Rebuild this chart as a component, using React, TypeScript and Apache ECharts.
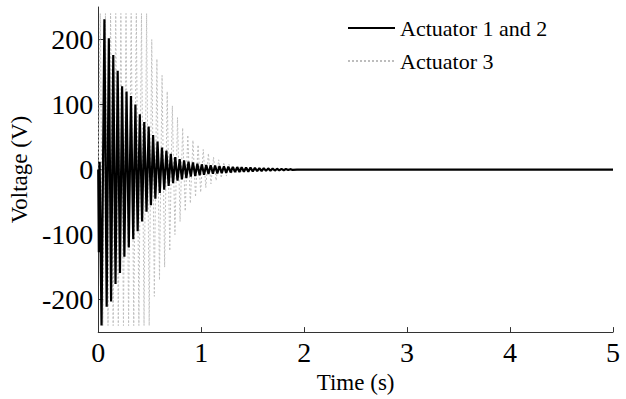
import React, { useEffect, useRef } from "react";
import * as echarts from "echarts";

// Actuator 1 and 2 (solid black): turning points
const a12Time = [
  0, 0.006, 0.014, 0.032,
  0.060, 0.082, 0.103, 0.125, 0.146, 0.168, 0.189, 0.211, 0.232, 0.254,
  0.275, 0.297, 0.318, 0.340, 0.361, 0.383, 0.404, 0.426, 0.447, 0.469,
  0.490, 0.512, 0.533, 0.555, 0.576, 0.598, 0.619, 0.641, 0.662, 0.684,
  0.705, 0.727, 0.748, 0.770, 0.791, 0.813, 0.834, 0.856, 0.877, 0.899,
  0.920, 0.942, 0.963, 0.985, 1.006, 1.028, 1.049, 1.071, 1.092, 1.114,
  1.135, 1.157, 1.178, 1.200, 1.221, 1.243, 1.264, 1.286, 1.307, 1.329,
  1.350, 1.372, 1.393, 1.415, 1.436, 1.458, 1.479, 1.501, 1.522, 1.544,
  1.565, 1.587, 1.608, 1.630, 1.651, 1.673, 1.694, 1.716, 1.737, 1.759,
  1.780, 1.802, 1.823, 1.845, 1.866, 1.888, 1.930, 5.0,
];
const a12Volt = [
  0, -127, 12, -240,
  231, -211, 202, -203, 176, -176, 152, -159, 128, -134,
  120, -120, 113, -107, 100, -95, 85, -80, 73, -65,
  66, -55, 53, -45, 43, -36, 34, -31, 29, -25,
  24, -21, 19, -17, 16, -15, 14, -13, 12, -11,
  11, -10, 9, -9, 8, -8, 7, -7, 6.5, -6.5,
  6, -6, 5.5, -5.5, 5, -5, 4.5, -4.5, 4, -4,
  3.8, -3.8, 3.5, -3.5, 3.2, -3.2, 3, -3, 2.5, -2.5,
  2.2, -2.2, 2, -2, 1.8, -1.8, 1.5, -1.5, 1.2, -1.2,
  1, -1, 0.8, -0.8, 0.6, -0.6, 0, 0,
];

// Actuator 3 (dotted grey): turning points
const a3Time = [
  0,
  0.020, 0.045, 0.070, 0.095, 0.120, 0.145, 0.170, 0.195, 0.220, 0.245,
  0.270, 0.295, 0.320, 0.345, 0.370, 0.395, 0.420, 0.445, 0.470, 0.495,
  0.520, 0.545, 0.570, 0.595, 0.620, 0.645, 0.670, 0.695, 0.720, 0.745,
  0.770, 0.795, 0.820, 0.845, 0.870, 0.895, 0.920, 0.945, 0.970, 0.995,
  1.020, 1.045, 1.070, 1.095, 1.120, 1.145, 1.170, 1.195, 1.220, 1.245,
  1.270, 1.295, 1.320, 1.345, 1.370, 1.395, 1.420, 1.445, 1.470, 1.495,
  1.520, 1.545, 1.600, 5.0,
];
const a3Volt = [
  0,
  240, -240, 240, -240, 240, -240, 240, -240, 240, -240,
  240, -240, 240, -240, 240, -240, 240, -240, 240, -240,
  200, -195, 170, -170, 145, -150, 120, -125, 98, -100,
  80, -80, 64, -64, 53, -52, 45, -42, 38, -35,
  31, -28, 25, -22, 19, -17, 15, -13, 11, -10,
  8, -7, 5, -5, 3.5, -3.5, 2.5, -2.5, 1.5, -1.5,
  1, -1, 0, 0,
];

const xTicks = [0, 1, 2, 3, 4, 5];
const yTicks = [-200, -100, 0, 100, 200];

const FONT = "Liberation Serif";

export default function App() {
  const ref = useRef<HTMLDivElement>(null);
  useEffect(() => {
    if (!ref.current) return;
    const chart = echarts.init(ref.current, undefined, { renderer: "svg" });
    const s12 = a12Time.map((t, i) => [t, a12Volt[i]]);
    const s3 = a3Time.map((t, i) => [t, a3Volt[i]]);
    chart.setOption({
      animation: false,
      backgroundColor: "#fff",
      grid: { left: 97, right: 13, top: 7, bottom: 54, containLabel: false },
      legend: {
        orient: "vertical",
        left: 347,
        top: 17,
        padding: 0,
        itemWidth: 47,
        itemHeight: 12,
        itemGap: 11,
        itemStyle: { opacity: 0 },
        textStyle: { fontFamily: FONT, fontSize: 22, color: "#000" },
        data: ["Actuator 1 and 2", "Actuator 3"],
      },
      xAxis: {
        type: "value",
        min: 0,
        max: 5,
        interval: 1,
        name: "Time (s)",
        nameLocation: "middle",
        nameGap: 31,
        nameTextStyle: { fontFamily: FONT, fontSize: 23, color: "#000" },
        axisLine: { show: true, onZero: false, lineStyle: { color: "#333", width: 1 } },
        axisTick: { show: true, inside: true, length: 5, lineStyle: { color: "#333" }, customValues: xTicks },
        axisLabel: { fontFamily: FONT, fontSize: 28, color: "#000", margin: 6, customValues: xTicks },
        splitLine: { show: false },
      },
      yAxis: {
        type: "value",
        min: -250,
        max: 250,
        name: "Voltage (V)",
        nameLocation: "middle",
        nameGap: 57,
        nameTextStyle: { fontFamily: FONT, fontSize: 23, color: "#000" },
        axisLine: { show: true, onZero: false, lineStyle: { color: "#333", width: 1 } },
        axisTick: { show: true, inside: true, length: 5, lineStyle: { color: "#333" }, customValues: yTicks },
        axisLabel: { fontFamily: FONT, fontSize: 28, color: "#000", margin: 5, customValues: yTicks },
        splitLine: { show: false },
      },
      series: [
        {
          name: "Actuator 1 and 2",
          type: "line",
          data: s12,
          symbol: "none",
          z: 3,
          lineStyle: { color: "#000", width: 2.2 },
          itemStyle: { color: "#000" },
        },
        {
          name: "Actuator 3",
          type: "line",
          data: s3,
          symbol: "none",
          z: 2,
          lineStyle: { color: "#bdbdbd", width: 1, type: [2, 2] },
          itemStyle: { color: "#bdbdbd" },
        },
      ],
    });
    return () => chart.dispose();
  }, []);
  return (
    <div
      ref={ref}
      style={{ position: "absolute", left: 0, top: 0, width: 626, height: 399 }}
    />
  );
}
